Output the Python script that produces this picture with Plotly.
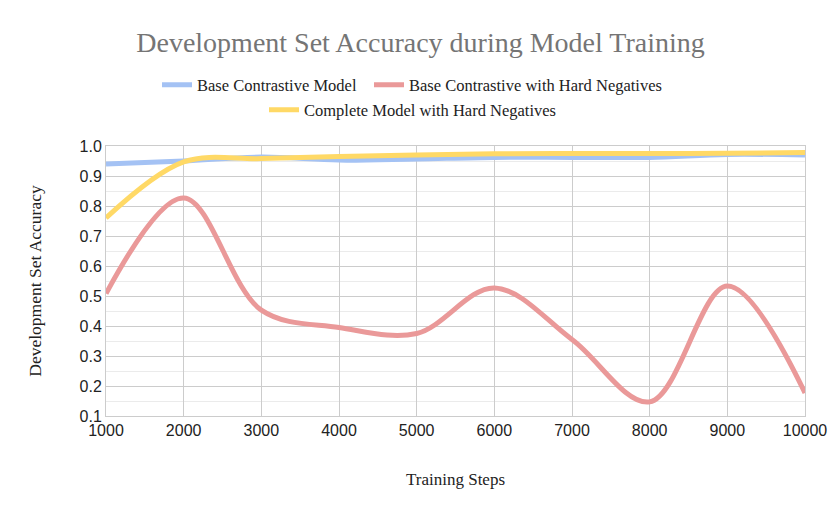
import plotly.graph_objects as go

steps = [1000, 2000, 3000, 4000, 5000, 6000, 7000, 8000, 9000, 10000]
base_contrastive = [0.94, 0.95, 0.963, 0.953, 0.957, 0.962, 0.962, 0.962, 0.972, 0.970]
base_hard_neg = [0.508, 0.827, 0.453, 0.395, 0.375, 0.527, 0.355, 0.147, 0.533, 0.177]
complete_hard_neg = [0.76, 0.947, 0.958, 0.965, 0.970, 0.974, 0.975, 0.975, 0.976, 0.978]

y_ticks = [0.1, 0.2, 0.3, 0.4, 0.5, 0.6, 0.7, 0.8, 0.9, 1.0]
y_tick_labels = ["0.1", "0.2", "0.3", "0.4", "0.5", "0.6", "0.7", "0.8", "0.9", "1.0"]

BLUE = "#a4c2f4"
RED = "#ea9999"
YELLOW = "#ffd966"

W, H = 830, 514

fig = go.Figure()
fig.add_trace(go.Scatter(x=steps, y=base_contrastive, mode="lines", name="Base Contrastive Model",
                         line=dict(color=BLUE, width=5, shape="spline", smoothing=1), legend="legend"))
fig.add_trace(go.Scatter(x=steps, y=base_hard_neg, mode="lines", name="Base Contrastive with Hard Negatives",
                         line=dict(color=RED, width=5, shape="spline", smoothing=1), legend="legend2"))
fig.add_trace(go.Scatter(x=steps, y=complete_hard_neg, mode="lines", name="Complete Model with Hard Negatives",
                         line=dict(color=YELLOW, width=5, shape="spline", smoothing=1), legend="legend3"))

serif = "Liberation Serif, Times New Roman, serif"
sans = "Liberation Sans, Arial, sans-serif"
legend_font = dict(family=serif, size=16.5, color="#222222")

def leg(xpx, ypx):
    return dict(orientation="h", xref="container", yref="container",
                x=xpx / W, xanchor="left", y=1 - ypx / H, yanchor="middle",
                font=legend_font, bgcolor="rgba(0,0,0,0)", itemwidth=30)

fig.update_layout(
    width=W, height=H,
    showlegend=True,
    margin=dict(l=106, r=25, t=146, b=98, autoexpand=False),
    paper_bgcolor="white", plot_bgcolor="white",
    title=dict(text="Development Set Accuracy during Model Training", x=420.5 / W, xanchor="center",
               y=1 - 42 / H, yanchor="middle",
               font=dict(family=serif, size=28, color="#757575")),
    legend=leg(157, 85),
    legend2=leg(369, 85),
    legend3=leg(264, 110),
    xaxis=dict(range=[1000, 10000], tickvals=steps, ticktext=[str(s) for s in steps],
               showgrid=True, gridcolor="#cccccc", gridwidth=1,
               showline=True, linecolor="#cccccc", mirror=True, zeroline=False, ticks="",
               tickfont=dict(family=sans, size=16, color="#222222"),
               title=dict(text="Training Steps", standoff=34,
                          font=dict(family=serif, size=17, color="#222222"))),
    yaxis=dict(range=[0.1, 1.0], tickvals=y_ticks, ticktext=y_tick_labels,
               showgrid=True, gridcolor="#cccccc", gridwidth=1,
               minor=dict(dtick=0.05, tick0=0.05, showgrid=True, gridcolor="#ebebeb", gridwidth=1),
               showline=True, linecolor="#cccccc", mirror=True, zeroline=False, ticks="",
               tickfont=dict(family=sans, size=16, color="#222222"),
               title=dict(text="Development Set Accuracy", standoff=33,
                          font=dict(family=serif, size=17.5, color="#222222"))),
)

fig.write_html("out.html", config={"displayModeBar": False},
               post_script="document.body.style.margin='0';document.body.style.overflow='hidden';")
